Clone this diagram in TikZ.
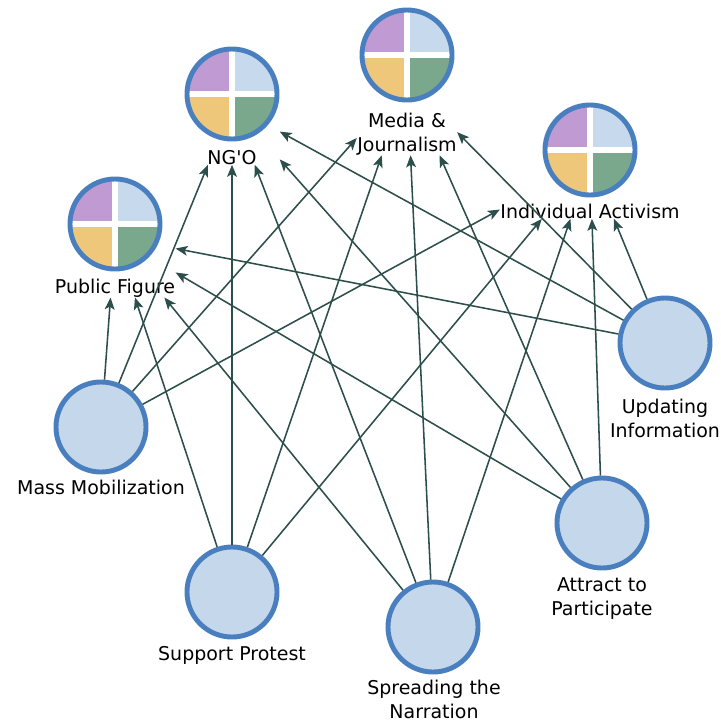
\documentclass[tikz,border=0pt]{standalone}
\usepackage{fontspec}
\setmainfont{DejaVu Sans}
\usepackage{tikz}
\usetikzlibrary{arrows.meta, fit}
\definecolor{ring}{HTML}{4A7FBF}
\definecolor{actorfill}{HTML}{C5D7EA}
\definecolor{piepurple}{HTML}{C09AD3}
\definecolor{pieblue}{HTML}{C7D9EC}
\definecolor{pieyellow}{HTML}{EEC77A}
\definecolor{piegreen}{HTML}{79A88C}
\definecolor{linkcol}{HTML}{2D4F4C}

\begin{document}
\begin{tikzpicture}[x=0.025cm, y=-0.025cm,
        actor/.style={circle, minimum size=2.25cm, inner sep=0pt, draw=ring, line width=3.5pt, fill=actorfill},
        pie/.style={circle, minimum size=2.25cm, inner sep=0pt, draw=ring, line width=3.5pt,
            path picture={
                \fill[piepurple] (path picture bounding box.north west) rectangle (path picture bounding box.center);
                \fill[pieblue] (path picture bounding box.north east) rectangle (path picture bounding box.center);
                \fill[pieyellow] (path picture bounding box.south west) rectangle (path picture bounding box.center);
                \fill[piegreen] (path picture bounding box.south east) rectangle (path picture bounding box.center);
                \draw[white, line width=4pt] (path picture bounding box.north) -- (path picture bounding box.south)
                    (path picture bounding box.west) -- (path picture bounding box.east);
            }},
        lbl/.style={inner sep=0pt, anchor=base, align=center, font=\fontsize{13.5}{17}\selectfont},
        grp/.style={inner sep=0pt},
        link/.style={draw=linkcol, line width=1.1pt, -{Stealth[length=8.5pt, width=7pt, inset=2pt]}}]
                \useasboundingbox (0,0) rectangle (721,724);

                \node[pie] (pf) at (115,224) {};
                \node[pie] (ngo) at (232,94) {};
                \node[pie] (mj) at (407,55) {};
                \node[pie] (ia) at (590,150) {};

                \node[lbl] (pfL) at (115,293) {Public Figure};
                \node[lbl] (ngoL) at (232,164) {NG\textquotesingle O};
                \node[lbl] (mjL) at (407,151) {Media \&\\Journalism};
                \node[lbl] (iaL) at (590,218) {Individual Activism};

                \node[grp, fit=(pf)(pfL)] (pfB) {};
                \node[grp, fit=(ngo)(ngoL)] (ngoB) {};
                \node[grp, fit=(mj)(mjL)] (mjB) {};
                \node[grp, fit=(ia)(iaL)] (iaB) {};

                \node[actor] (mm) at (101,427) {};
                \node[actor] (sp) at (232,592) {};
                \node[actor] (sn) at (433,627) {};
                \node[actor] (ap) at (602,523) {};
                \node[actor] (ui) at (665,343) {};

                \node[lbl] (mmL) at (101,494) {Mass Mobilization};
                \node[lbl] (spL) at (232,660) {Support Protest};
                \node[lbl] (snL) at (434,718) {Spreading the\\Narration};
                \node[lbl] (apL) at (602,615) {Attract to\\Participate};
                \node[lbl] (uiL) at (665,437) {Updating\\Information};

                \draw[link] (mm) -- (pfB);
                \draw[link] (mm) -- (ngoB);
                \draw[link] (mm) -- (mjB);
                \draw[link] (mm) -- (iaB);

                \draw[link] (sp) -- (pfB);
                \draw[link] (sp) -- (ngoB);
                \draw[link] (sp) -- (mjB);
                \draw[link] (sp) -- (iaB);

                \draw[link] (sn) -- (pfB);
                \draw[link] (sn) -- (ngoB);
                \draw[link] (sn) -- (mjB);
                \draw[link] (sn) -- (iaB);

                \draw[link] (ap) -- (pfB);
                \draw[link] (ap) -- (ngoB);
                \draw[link] (ap) -- (mjB);
                \draw[link] (ap) -- (iaB);

                \draw[link] (ui) -- (pfB);
                \draw[link] (ui) -- (ngoB);
                \draw[link] (ui) -- (mjB);
                \draw[link] (ui) -- (iaB);
            \end{tikzpicture}
\end{document}
